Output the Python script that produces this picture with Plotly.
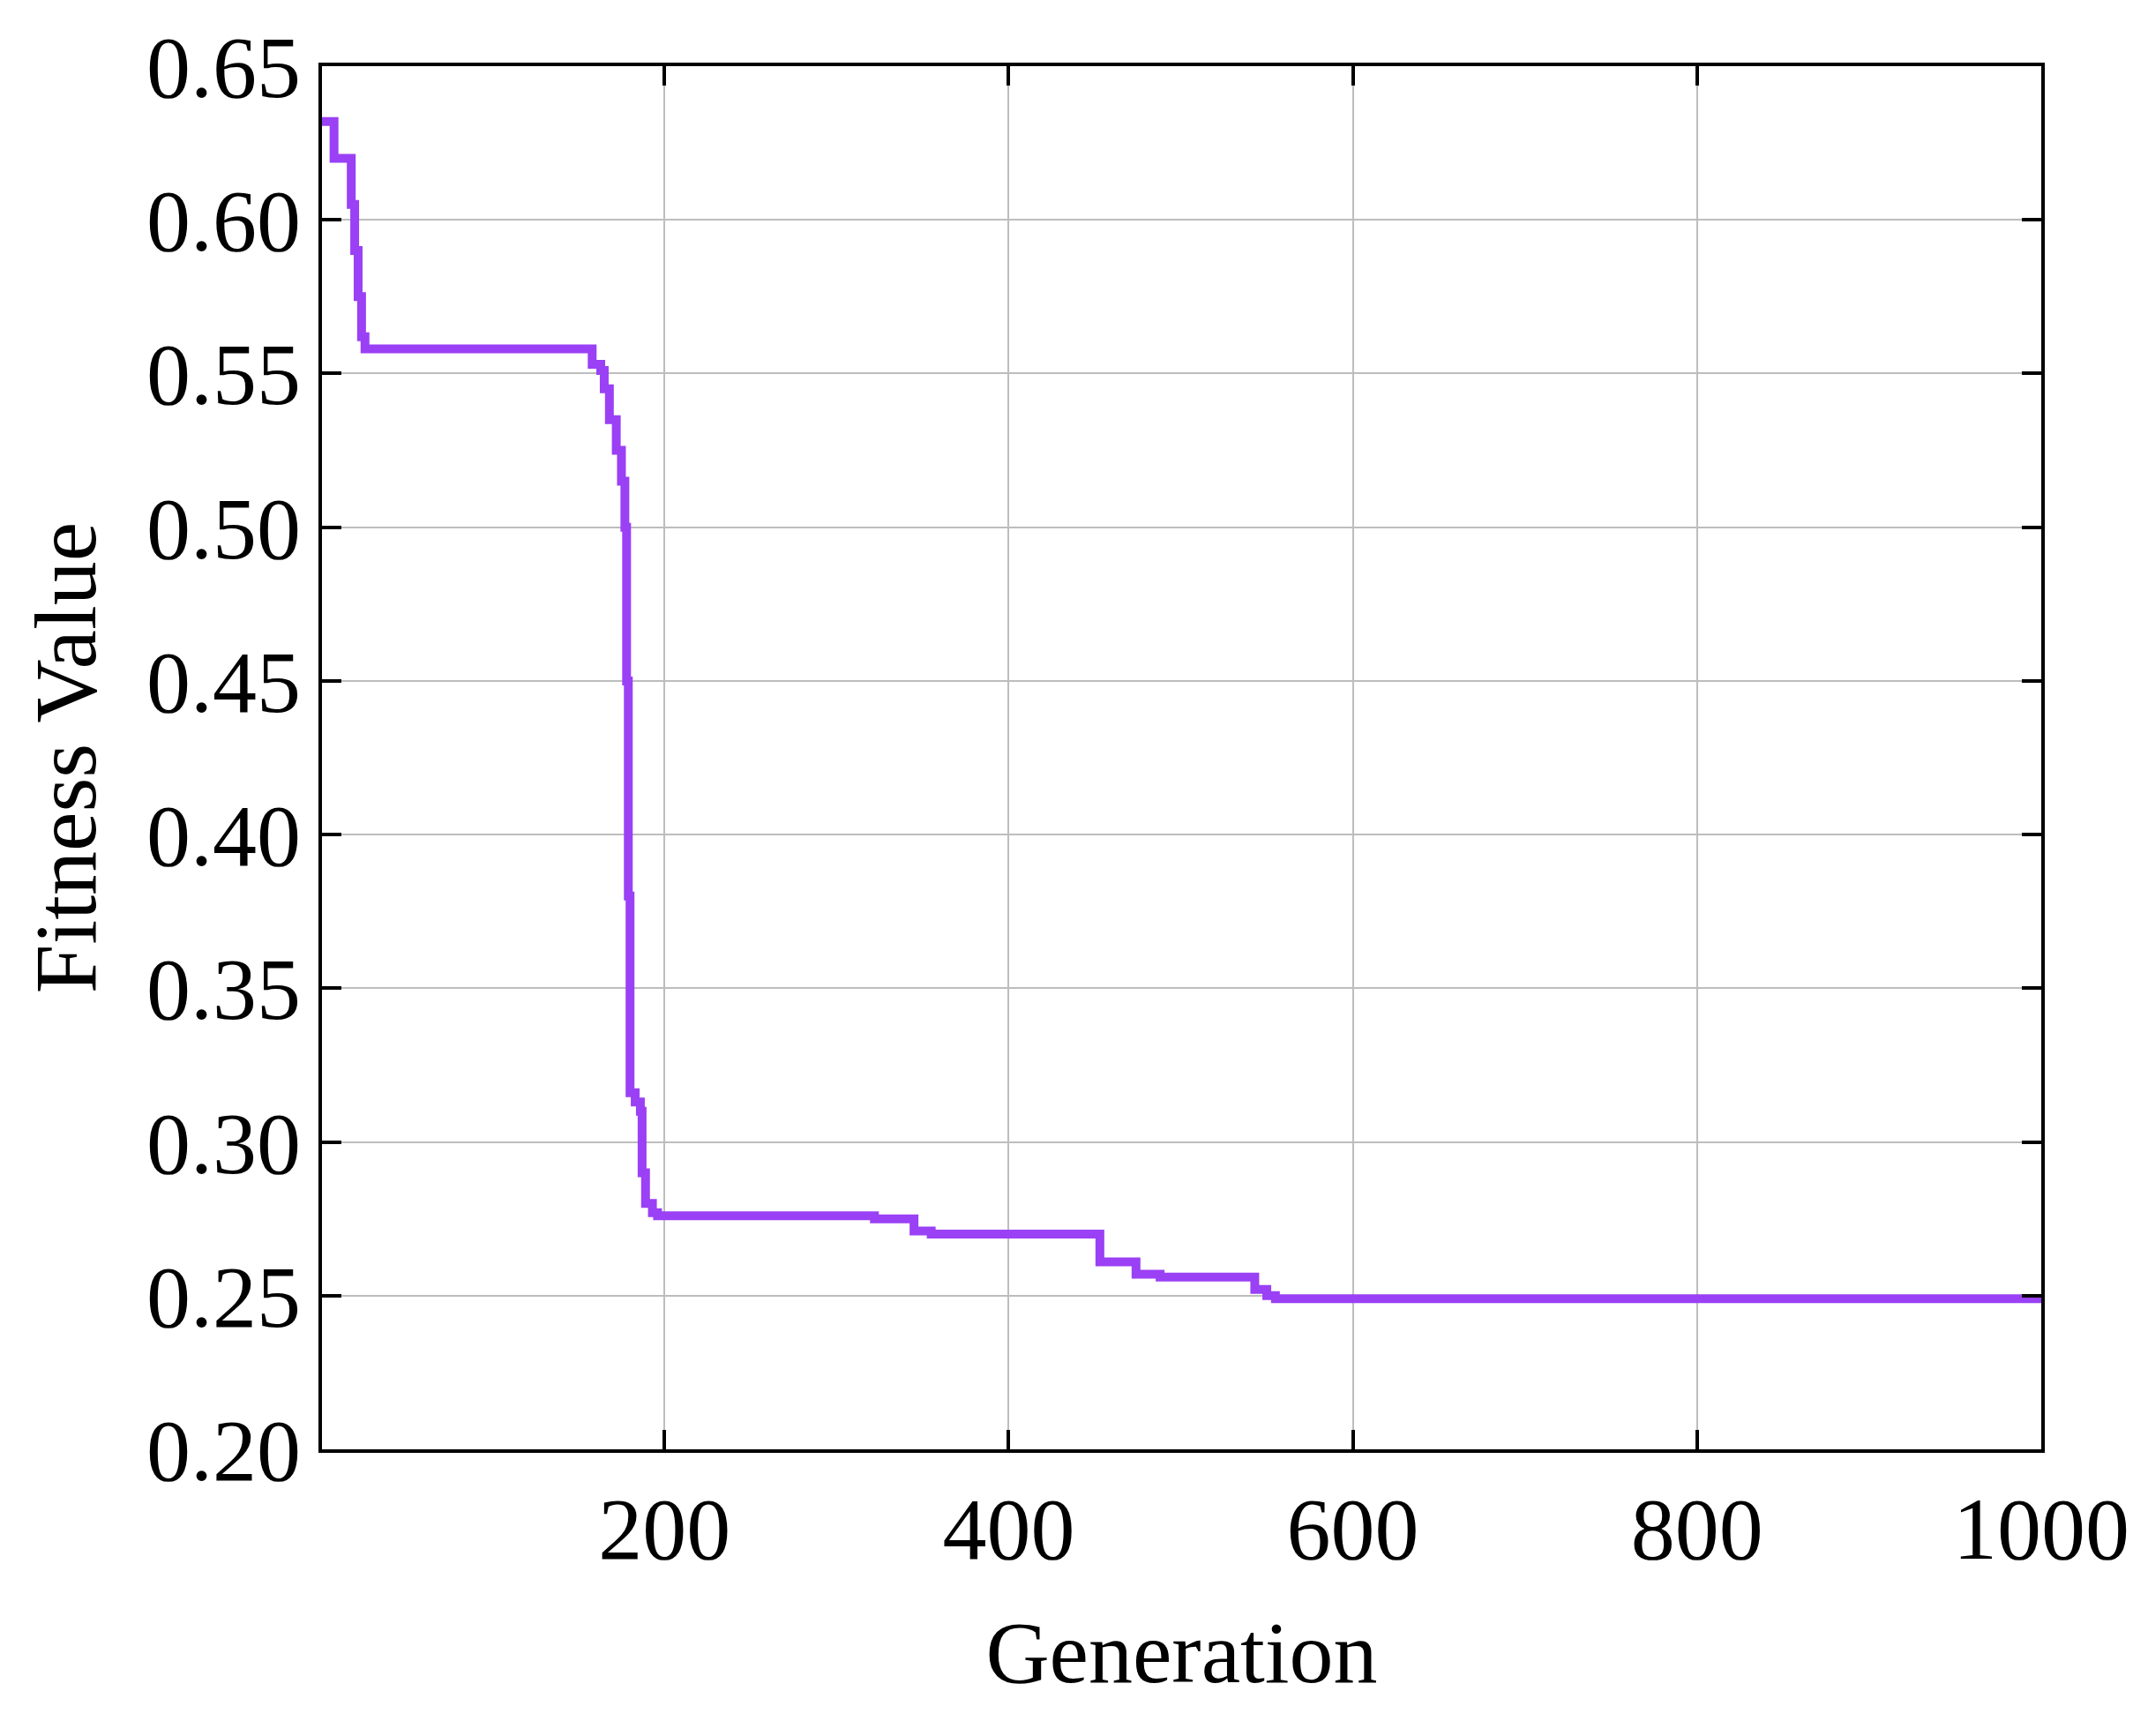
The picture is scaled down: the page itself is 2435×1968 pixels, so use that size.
import plotly.graph_objects as go

generation = [1, 7, 8, 17, 18, 20, 22, 24, 26, 155, 158, 163, 165, 168, 172, 175, 177, 178, 179, 180, 183, 186, 187, 189, 193, 196, 322, 340, 345, 355, 450, 453, 473, 474, 488, 542, 543, 550, 555, 1000]
fitness = [0.632, 0.632, 0.620, 0.620, 0.605, 0.590, 0.575, 0.562, 0.558, 0.558, 0.553, 0.551, 0.545, 0.535, 0.525, 0.515, 0.500, 0.450, 0.380, 0.316, 0.313, 0.310, 0.290, 0.280, 0.277, 0.276, 0.275, 0.275, 0.271, 0.270, 0.270, 0.261, 0.261, 0.257, 0.256, 0.256, 0.252, 0.250, 0.249, 0.249]

x_ticks = [200, 400, 600, 800, 1000]
y_ticks = [0.20, 0.25, 0.30, 0.35, 0.40, 0.45, 0.50, 0.55, 0.60, 0.65]

fig = go.Figure(go.Scatter(x=generation, y=fitness, mode="lines", line_shape="hv",
                           line=dict(color="#9a40f5", width=10)))
font = dict(family="Liberation Serif", size=100, color="black")
ax = dict(showline=True, linecolor="black", linewidth=4, mirror="ticks", ticks="inside",
          ticklen=22, tickwidth=4, tickcolor="black", showgrid=True, gridcolor="#bdbdbd",
          gridwidth=2, zeroline=False, tickfont=font)
fig.update_xaxes(range=[1, 1000], tickvals=x_ticks, title=dict(text="Generation", font=font, standoff=50), **ax)
fig.update_yaxes(range=[0.20, 0.65], tickvals=y_ticks, tickformat=".2f",
                 title=dict(text="Fitness Value", font=font, standoff=25), **ax)
fig.update_layout(width=2435, height=1968, plot_bgcolor="white", paper_bgcolor="white",
                  showlegend=False, margin=dict(l=357, r=129, t=67, b=333))
fig.write_html("out.html")
